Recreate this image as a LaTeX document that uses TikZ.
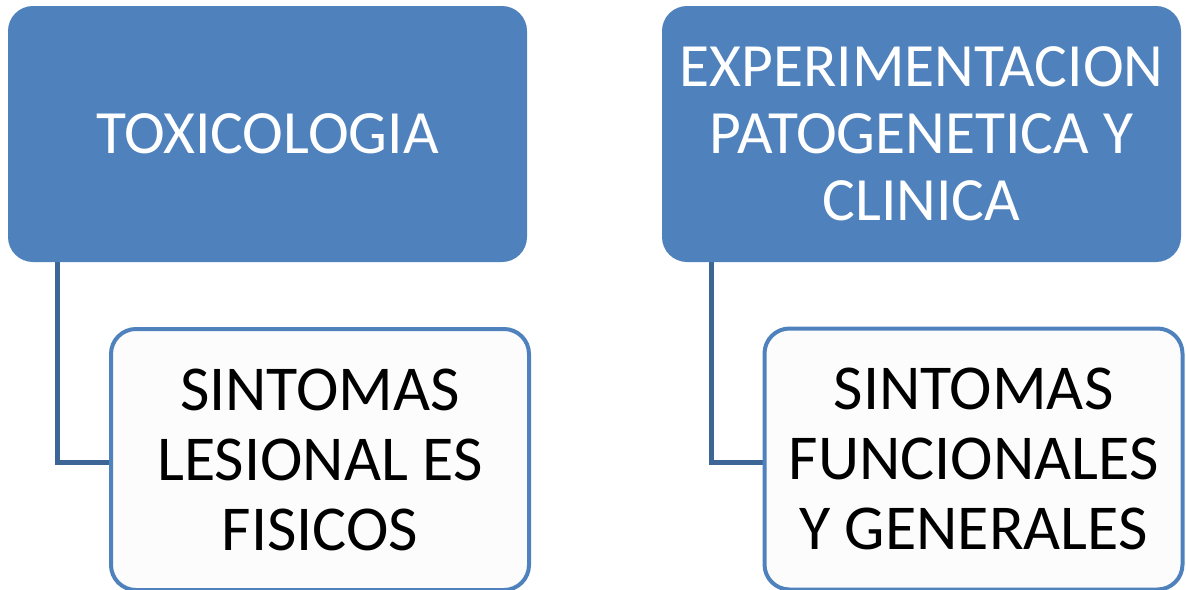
\documentclass[tikz,border=0pt]{standalone}
\usepackage{fontspec}
\setmainfont{Carlito}
\usetikzlibrary{backgrounds}
\definecolor{boxblue}{HTML}{4F81BD}
\definecolor{linkblue}{HTML}{3D6696}
\begin{document}
\begin{tikzpicture}[x=1pt,y=1pt,
  topbox/.style={draw=none, fill=boxblue, rounded corners=25pt, minimum width=519pt, minimum height=256pt, inner sep=0pt, align=center, text=white, font=\fontsize{61.5}{67}\selectfont},
  childbox/.style={draw=boxblue, line width=4pt, fill=white!99!black, rounded corners=25pt, minimum width=418pt, minimum height=261pt, inner sep=0pt, align=center, text=black, font=\fontsize{64}{70}\selectfont},
  link/.style={draw=linkblue, line width=5pt}]
\useasboundingbox (0,0) rectangle (1186,-589);
\node[topbox] (lt) at (267.5,-134) {TOXICOLOGIA};
\node[topbox] (rt) at (921.5,-134) {EXPERIMENTACION\\PATOGENETICA Y\\CLINICA};
\node[childbox] (lc) at (320,-459.5) {SINTOMAS\\LESIONAL ES\\FISICOS};
\node[childbox] (rc) at (973.5,-459) {SINTOMAS\\FUNCIONALES\\Y GENERALES};
\begin{pgfonlayer}{background}
\draw[link] ([xshift=50pt]lt.south west) |- ([yshift=-3pt]lc.west);
\draw[link] ([xshift=50pt]rt.south west) |- ([yshift=-3pt]rc.west);
\end{pgfonlayer}
\end{tikzpicture}
\end{document}
